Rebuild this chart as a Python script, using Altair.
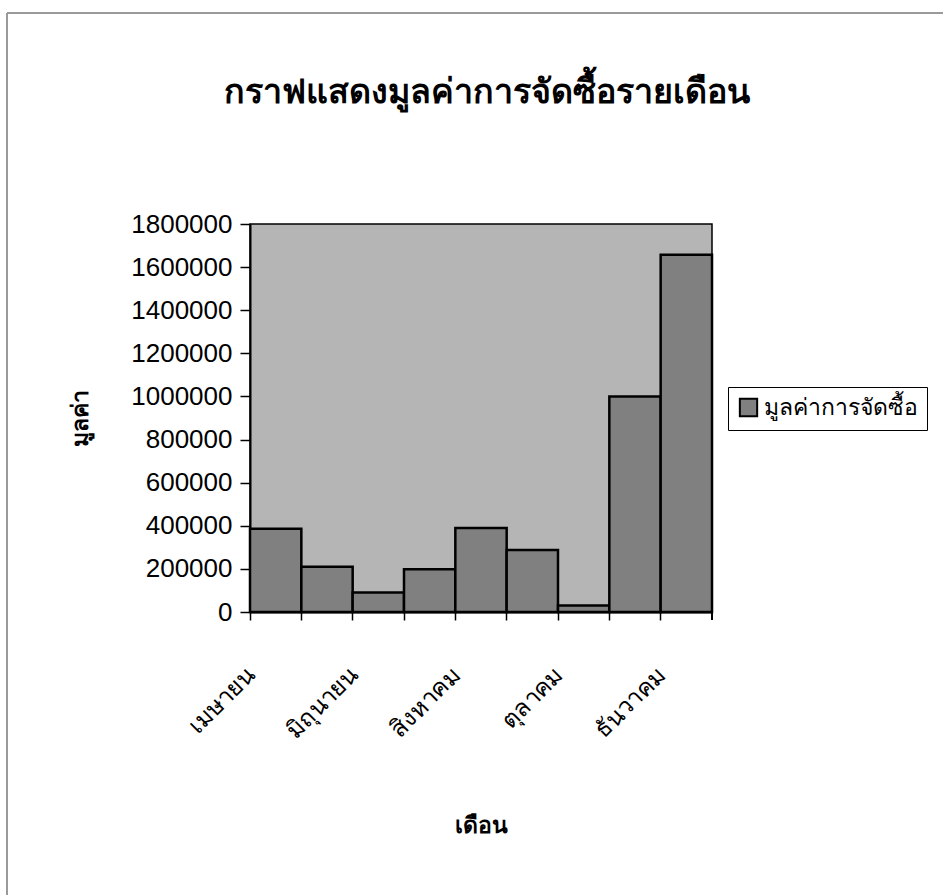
import altair as alt
import pandas as pd

months = ['เมษายน', 'พฤษภาคม', 'มิถุนายน', 'กรกฎาคม', 'สิงหาคม',
          'กันยายน', 'ตุลาคม', 'พฤศจิกายน', 'ธันวาคม']
values = [386000, 210000, 90000, 198000, 390000, 288000, 30000, 1000000, 1657000]
series_name = 'มูลค่าการจัดซื้อ'
shown_labels = ['เมษายน', 'มิถุนายน', 'สิงหาคม', 'ตุลาคม', 'ธันวาคม']
y_ticks = list(range(0, 1800001, 200000))

df = pd.DataFrame({'month': months, 'value': values, 'series': series_name})

W, H = 462, 388
FONT = 'Liberation Sans'

label_expr = "indexof(" + str(shown_labels) + ", datum.value) >= 0 ? datum.value : ''"

bars = alt.Chart(df).mark_bar(stroke='black', strokeWidth=2.5).encode(
    x=alt.X('month:N', sort=months,
            scale=alt.Scale(paddingInner=0, paddingOuter=0),
            axis=alt.Axis(title='เดือน', bandPosition=0, labelOffset=-24,
                          labelAngle=-45, labelAlign='right', labelBaseline='middle',
                          labelExpr=label_expr, tickSize=8, labelPadding=51,
                          labelFontSize=24, titleFontSize=23, titleFontWeight='bold',
                          titlePadding=71, domainColor='black', tickColor='black',
                          domainWidth=2, tickWidth=1.5, labelColor='black')),
    y=alt.Y('value:Q', scale=alt.Scale(domain=[0, 1800000]),
            axis=alt.Axis(title='มูลค่า', values=y_ticks, format='d', grid=False,
                          tickSize=10, labelPadding=8, labelFontSize=26,
                          titleFontSize=23, titleFontWeight='bold', titlePadding=38,
                          domainColor='black', tickColor='black', domainWidth=2,
                          tickWidth=1.5, labelColor='black')),
    color=alt.Color('series:N', scale=alt.Scale(range=['#808080']),
                    legend=alt.Legend(title=None, orient='none', legendX=478, legendY=163,
                                      strokeColor='black', fillColor='white', padding=9,
                                      symbolType='square', symbolSize=300,
                                      symbolStrokeColor='black', symbolStrokeWidth=2,
                                      labelFontSize=23, labelLimit=400,
                                      labelColor='black')),
)

end_tick = alt.Chart(df).mark_rule(color='black', strokeWidth=1.5).encode(
    x=alt.value(W), y=alt.value(H), y2=alt.value(H + 8)
)
frame_top = alt.Chart(df).mark_rule(color='#9a9a9a', strokeWidth=2).encode(
    x=alt.value(-243), x2=alt.value(700), y=alt.value(-211)
)
frame_left = alt.Chart(df).mark_rule(color='#9a9a9a', strokeWidth=2).encode(
    x=alt.value(-243), y=alt.value(-211), y2=alt.value(680)
)

chart = alt.layer(bars, end_tick, frame_top, frame_left).properties(
    width=W, height=H,
    title=alt.Title('กราฟแสดงมูลค่าการจัดซื้อรายเดือน', fontSize=34, fontWeight='bold',
                    anchor='middle', offset=0, dy=98, dx=6, color='black'),
    autosize=alt.AutoSizeParams(type='none'),
    padding={'left': 250, 'top': 224, 'right': 231, 'bottom': 283},
).configure(font=FONT).configure_view(
    fill='#b5b5b5', stroke='black', strokeWidth=1.5
)

chart.save('out.html', embed_options={'renderer': 'svg', 'actions': False})
